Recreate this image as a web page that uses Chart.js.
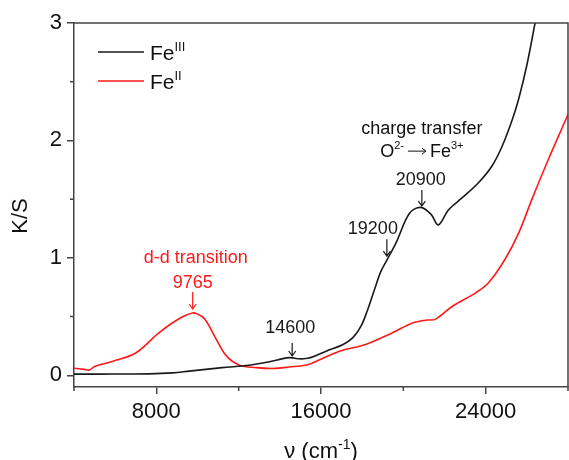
<!DOCTYPE html>
<html>
<head>
<meta charset="utf-8">
<script src="https://cdn.jsdelivr.net/npm/chart.js@4.4.0/dist/chart.umd.min.js"></script>
<style>
  body { margin: 0; background: #fff; }
  canvas { display: block; }
</style>
</head>
<body>
<canvas id="ksChart" width="569" height="460"></canvas>
<script>
// Kubelka-Munk spectra (K/S vs wavenumber, cm-1)
const nuFe3 = [4000, 5250, 7650, 8800, 9600, 11200, 12500, 13500, 14450, 14950, 15350, 15650, 16250, 17050, 17550, 17950, 18250, 18600, 18900, 19200, 19650, 20300, 20850, 21350, 21700, 22200, 22850, 23650, 24300, 24800, 25300, 25600, 26000, 26400, 26600];
const ksFe3 = [0.01, 0.01, 0.012, 0.02, 0.035, 0.065, 0.085, 0.115, 0.15, 0.14, 0.145, 0.16, 0.205, 0.26, 0.32, 0.42, 0.55, 0.73, 0.88, 0.98, 1.13, 1.38, 1.43, 1.37, 1.28, 1.41, 1.51, 1.64, 1.78, 1.95, 2.18, 2.35, 2.64, 3.0, 3.18];

const nuFe2 = [4000, 4500, 4750, 5000, 5900, 7000, 8050, 8650, 9300, 9765, 9950, 10350, 10900, 11400, 12050, 12850, 13650, 14450, 15350, 15900, 16900, 18200, 19450, 20450, 21150, 21550, 22400, 23500, 24150, 24950, 25600, 26250, 27050, 28000];
const ksFe2 = [0.06, 0.05, 0.045, 0.075, 0.12, 0.19, 0.35, 0.43, 0.5, 0.53, 0.525, 0.48, 0.31, 0.165, 0.085, 0.065, 0.058, 0.07, 0.09, 0.13, 0.205, 0.265, 0.36, 0.445, 0.47, 0.476, 0.59, 0.70, 0.79, 0.99, 1.21, 1.50, 1.84, 2.22];

const xTicks = [8000, 16000, 24000];
const xMinorTicks = [4000, 12000, 20000, 28000];
const yTicks = [0, 1, 2, 3];
const yMinorTicks = [0.5, 1.5, 2.5];

// band positions marked with arrows
const bandPositions = [9765, 14600, 19200, 20900];

const FONT = "Arial, 'Liberation Sans', sans-serif";
const AXIS = "#444";
const BLACK = "#1a1a1a";
const RED = "#ff1a1a";

function toPoints(xs, ys) {
    return xs.map((x, i) => ({ x: x, y: ys[i] }));
}

// linear interpolation on a series, used to sit the arrows just above the curve
function valueAt(xs, ys, x) {
    for (let i = 1; i < xs.length; i++) {
        if (x <= xs[i]) {
            const t = (x - xs[i - 1]) / (xs[i] - xs[i - 1]);
            return ys[i - 1] + t * (ys[i] - ys[i - 1]);
        }
    }
    return ys[ys.length - 1];
}

// text with superscripts; parts = [[text, isSup], ...] or ["arrow"]
function drawRich(ctx, parts, x, y, size, color, align) {
    const supSize = Math.round(size * 0.62);
    const widths = parts.map(p => {
        if (p[0] === "arrow") return 26;
        ctx.font = (p[1] ? supSize : size) + "px " + FONT;
        return ctx.measureText(p[0]).width;
    });
    const total = widths.reduce((a, b) => a + b, 0);
    let cx = align === "center" ? x - total / 2 : x;
    ctx.fillStyle = color;
    ctx.strokeStyle = color;
    ctx.textAlign = "left";
    ctx.textBaseline = "alphabetic";
    parts.forEach((p, i) => {
        if (p[0] === "arrow") {
            const ay = y - size * 0.33;
            ctx.lineWidth = 1;
            ctx.beginPath();
            ctx.moveTo(cx + 4, ay);
            ctx.lineTo(cx + widths[i] - 4, ay);
            ctx.moveTo(cx + widths[i] - 8, ay - 3);
            ctx.lineTo(cx + widths[i] - 4, ay);
            ctx.lineTo(cx + widths[i] - 8, ay + 3);
            ctx.stroke();
        } else {
            ctx.font = (p[1] ? supSize : size) + "px " + FONT;
            ctx.fillText(p[0], cx, p[1] ? y - size * 0.42 : y);
        }
        cx += widths[i];
    });
}

function drawArrow(ctx, x, yTop, yTip, color) {
    ctx.strokeStyle = color;
    ctx.lineWidth = 1.2;
    ctx.beginPath();
    ctx.moveTo(x, yTop);
    ctx.lineTo(x, yTip);
    ctx.moveTo(x - 3.5, yTip - 5);
    ctx.lineTo(x, yTip);
    ctx.lineTo(x + 3.5, yTip - 5);
    ctx.stroke();
}

const framePlugin = {
    id: "frame",
    afterDraw(chart) {
        const ctx = chart.ctx;
        const a = chart.chartArea;
        const xs = chart.scales.x;
        const ys = chart.scales.y;
        ctx.save();
        ctx.strokeStyle = AXIS;
        ctx.lineWidth = 1.5;
        ctx.beginPath();
        ctx.moveTo(a.left, a.top);
        ctx.lineTo(a.right, a.top);
        ctx.lineTo(a.right, a.bottom);
        // minor ticks
        xMinorTicks.forEach(v => {
            const px = xs.getPixelForValue(v);
            ctx.moveTo(px, a.bottom);
            ctx.lineTo(px, a.bottom + 4);
        });
        yMinorTicks.forEach(v => {
            const py = ys.getPixelForValue(v);
            ctx.moveTo(a.left, py);
            ctx.lineTo(a.left - 4, py);
        });
        ctx.stroke();

        // legend
        const lx = a.left + 24;
        [["III", BLACK, 29], ["II", RED, 58]].forEach(item => {
            const ly = a.top + item[2];
            ctx.strokeStyle = item[1];
            ctx.lineWidth = 1.6;
            ctx.beginPath();
            ctx.moveTo(lx, ly);
            ctx.lineTo(lx + 46, ly);
            ctx.stroke();
            drawRich(ctx, [["Fe", false], [item[0], true]], lx + 52, ly + 8, 21, "#111", "left");
        });

        // band arrows and labels
        const marks = [
            { series: [nuFe2, ksFe2], color: RED, gap: 4, len: 17, textGap: 4.5, dx: 0 },
            { series: [nuFe3, ksFe3], color: BLACK, gap: 2, len: 13, textGap: 10, dx: -2 },
            { series: [nuFe3, ksFe3], color: BLACK, gap: 4, len: 17, textGap: 5, dx: -14 },
            { series: [nuFe3, ksFe3], color: BLACK, gap: 2, len: 16, textGap: 5, dx: -1 }
        ];
        const tops = [];
        bandPositions.forEach((v, i) => {
            const m = marks[i];
            const px = xs.getPixelForValue(v);
            const tip = ys.getPixelForValue(valueAt(m.series[0], m.series[1], v)) - m.gap;
            drawArrow(ctx, px, tip - m.len, tip, m.color);
            const base = tip - m.len - m.textGap;
            drawRich(ctx, [[String(v), false]], px + m.dx, base, 18, m.color, "center");
            tops.push({ x: px, base: base });
        });
        drawRich(ctx, [["d-d transition", false]], tops[0].x + 3, tops[0].base - 25, 18, RED, "center");
        drawRich(ctx, [["O", false], ["2-", true], ["arrow"], ["Fe", false], ["3+", true]],
            tops[3].x, tops[3].base - 28, 18, "#111", "center");
        drawRich(ctx, [["charge transfer", false]], tops[3].x, tops[3].base - 51, 18, "#111", "center");

        // axis titles
        ctx.save();
        ctx.translate(21, 216);
        ctx.rotate(-Math.PI / 2);
        ctx.font = "22px " + FONT;
        ctx.fillStyle = "#111";
        ctx.textAlign = "center";
        ctx.textBaseline = "middle";
        ctx.fillText("K/S", 0, 0);
        ctx.restore();
        drawRich(ctx, [["\u03bd (cm", false], ["-1", true], [")", false]], (a.left + a.right) / 2, 458, 22, "#111", "center");
        ctx.restore();
    }
};

const config = {
    type: "line",
    data: {
        datasets: [
            {
                label: "FeIII",
                data: toPoints(nuFe3, ksFe3),
                borderColor: BLACK,
                borderWidth: 1.6,
                pointRadius: 0,
                tension: 0.35
            },
            {
                label: "FeII",
                data: toPoints(nuFe2, ksFe2),
                borderColor: RED,
                borderWidth: 1.6,
                pointRadius: 0,
                tension: 0.35
            }
        ]
    },
    options: {
        responsive: false,
        animation: false,
        layout: { padding: { top: 23, right: 1, left: 0, bottom: 0 } },
        plugins: {
            legend: { display: false },
            tooltip: { enabled: false }
        },
        scales: {
            x: {
                type: "linear",
                min: 4000,
                max: 28000,
                afterBuildTicks: s => { s.ticks = xTicks.map(v => ({ value: v })); },
                afterFit: s => { s.height = 73; },
                grid: { drawOnChartArea: false, drawTicks: true, tickLength: 7, color: AXIS, lineWidth: 1.5 },
                border: { color: AXIS, width: 1.5 },
                ticks: {
                    font: { family: FONT, size: 22 },
                    color: "#111",
                    padding: 5,
                    maxRotation: 0,
                    autoSkip: false,
                    callback: v => String(v)
                }
            },
            y: {
                min: -0.1,
                max: 3,
                afterBuildTicks: s => { s.ticks = yTicks.map(v => ({ value: v })); },
                afterFit: s => { s.width = 74; },
                grid: { drawOnChartArea: false, drawTicks: true, tickLength: 7, color: AXIS, lineWidth: 1.5 },
                border: { color: AXIS, width: 1.5 },
                ticks: {
                    font: { family: FONT, size: 22 },
                    color: "#111",
                    padding: 5,
                    callback: v => String(v)
                }
            }
        }
    },
    plugins: [framePlugin]
};

new Chart(document.getElementById("ksChart"), config);
</script>
</body>
</html>
